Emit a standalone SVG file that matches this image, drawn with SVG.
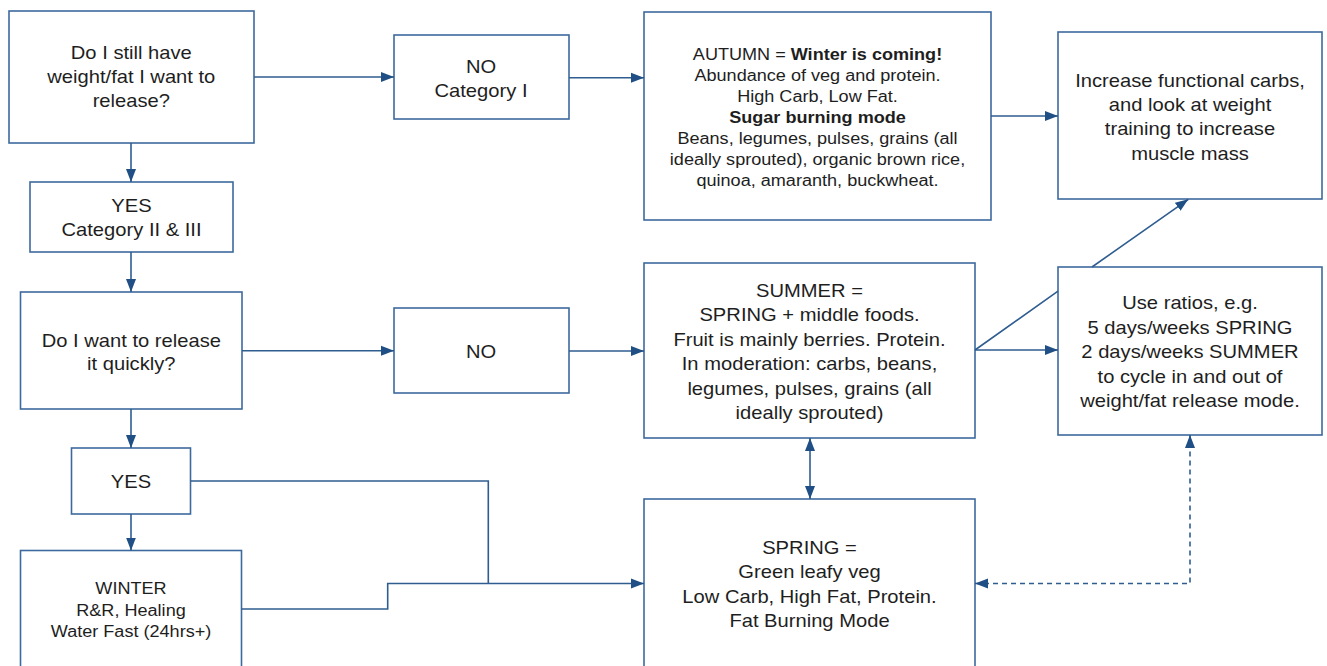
<svg xmlns="http://www.w3.org/2000/svg" width="1327" height="666" viewBox="0 0 1327 666">
<style>
.box{fill:#ffffff;stroke:#3d6a9e;stroke-width:1.6}
.t{font-family:"Liberation Sans",Arial,sans-serif;font-size:18px;fill:#1e1e1e;text-anchor:middle}
.s{font-size:16px}
.b{font-weight:bold}
.c{fill:none;stroke:#2f5d90;stroke-width:1.6}
.d{stroke-dasharray:5,4}
</style>
<defs>
<marker id="ah" markerUnits="userSpaceOnUse" markerWidth="14" markerHeight="11" refX="13" refY="5.5" orient="auto-start-reverse" viewBox="0 0 14 11">
<path d="M0,0.5 L13,5.5 L0,10.5 z" fill="#1f4f85"/>
</marker>
</defs>
<rect width="1327" height="666" fill="#ffffff"/>

<g id="n-still">
<rect class="box" x="9" y="11" width="245" height="132"/>
<g transform="translate(131.3,0) scale(1.12,1)"><text class="t"><tspan x="0" y="59.3">Do I still have</tspan><tspan x="0" y="83.3">weight/fat I want to</tspan><tspan x="0" y="107.3">release?</tspan></text></g>
</g>
<g id="n-yescat">
<rect class="box" x="30" y="182" width="203" height="70"/>
<g transform="translate(131.5,0) scale(1.12,1)"><text class="t"><tspan x="0" y="212.5">YES</tspan><tspan x="0" y="236.5">Category II &amp; III</tspan></text></g>
</g>
<g id="n-nocat">
<rect class="box" x="394" y="35" width="175" height="84"/>
<g transform="translate(481,0) scale(1.12,1)"><text class="t"><tspan x="0" y="73.3">NO</tspan><tspan x="0" y="97.3">Category I</tspan></text></g>
</g>
<g id="n-autumn">
<rect class="box" x="644" y="12" width="347" height="208"/>
<g transform="translate(817.5,0) scale(1.13,1)"><text class="t s"><tspan x="0" y="60">AUTUMN = <tspan class="b">Winter is coming!</tspan></tspan><tspan x="0" y="81">Abundance of veg and protein.</tspan><tspan x="0" y="102">High Carb, Low Fat.</tspan><tspan x="0" y="123" class="b">Sugar burning mode</tspan><tspan x="0" y="144">Beans, legumes, pulses, grains (all</tspan><tspan x="0" y="165">ideally sprouted), organic brown rice,</tspan><tspan x="0" y="186">quinoa, amaranth, buckwheat.</tspan></text></g>
</g>
<g id="n-increase">
<rect class="box" x="1058" y="32" width="264" height="167"/>
<g transform="translate(1190,0) scale(1.12,1)"><text class="t"><tspan x="0" y="86.7">Increase functional carbs,</tspan><tspan x="0" y="111">and look at weight</tspan><tspan x="0" y="135.3">training to increase</tspan><tspan x="0" y="159.7">muscle mass</tspan></text></g>
</g>
<g id="n-quick">
<rect class="box" x="20.5" y="292" width="221.5" height="117"/>
<g transform="translate(131.3,0) scale(1.12,1)"><text class="t"><tspan x="0" y="346.7">Do I want to release</tspan><tspan x="0" y="370.5">it quickly?</tspan></text></g>
</g>
<g id="n-no">
<rect class="box" x="394" y="308" width="175" height="85"/>
<g transform="translate(481,0) scale(1.12,1)"><text class="t"><tspan x="0" y="358.5">NO</tspan></text></g>
</g>
<g id="n-summer">
<rect class="box" x="644" y="263" width="331" height="175"/>
<g transform="translate(809.5,0) scale(1.12,1)"><text class="t"><tspan x="0" y="297">SUMMER =</tspan><tspan x="0" y="321.5">SPRING + middle foods.</tspan><tspan x="0" y="346">Fruit is mainly berries. Protein.</tspan><tspan x="0" y="370.5">In moderation: carbs, beans,</tspan><tspan x="0" y="395">legumes, pulses, grains (all</tspan><tspan x="0" y="419.5">ideally sprouted)</tspan></text></g>
</g>
<g id="n-ratios">
<rect class="box" x="1058" y="267" width="264" height="168"/>
<g transform="translate(1190,0) scale(1.12,1)"><text class="t"><tspan x="0" y="309.5">Use ratios, e.g.</tspan><tspan x="0" y="334">5 days/weeks SPRING</tspan><tspan x="0" y="358.5">2 days/weeks SUMMER</tspan><tspan x="0" y="383">to cycle in and out of</tspan><tspan x="0" y="407">weight/fat release mode.</tspan></text></g>
</g>
<g id="n-yes">
<rect class="box" x="71.5" y="448" width="119" height="66"/>
<g transform="translate(131,0) scale(1.12,1)"><text class="t"><tspan x="0" y="488.3">YES</tspan></text></g>
</g>
<g id="n-winter">
<rect class="box" x="20.5" y="550.5" width="221" height="130"/>
<g transform="translate(131,0) scale(1.13,1)"><text class="t s"><tspan x="0" y="594.3">WINTER</tspan><tspan x="0" y="616">R&amp;R, Healing</tspan><tspan x="0" y="637.5">Water Fast (24hrs+)</tspan></text></g>
</g>
<g id="n-spring">
<rect class="box" x="644" y="499" width="331" height="180"/>
<g transform="translate(809.5,0) scale(1.12,1)"><text class="t"><tspan x="0" y="554">SPRING =</tspan><tspan x="0" y="578.5">Green leafy veg</tspan><tspan x="0" y="603">Low Carb, High Fat, Protein.</tspan><tspan x="0" y="627.5">Fat Burning Mode</tspan></text></g>
</g>

<g id="connectors">
<path class="c" d="M254,77 H394" marker-end="url(#ah)"/>
<path class="c" d="M569,77.7 H644" marker-end="url(#ah)"/>
<path class="c" d="M991,116 H1058" marker-end="url(#ah)"/>
<path class="c" d="M131,143 V182" marker-end="url(#ah)"/>
<path class="c" d="M131,252 V292" marker-end="url(#ah)"/>
<path class="c" d="M242,350.8 H394" marker-end="url(#ah)"/>
<path class="c" d="M569,351 H644" marker-end="url(#ah)"/>
<path class="c" d="M131,409 V448" marker-end="url(#ah)"/>
<path class="c" d="M131,514 V550.5" marker-end="url(#ah)"/>
<path class="c" d="M190.5,481 H488.3 V583.5"/>
<path class="c" d="M241.5,609 H387.7 V583.5 H644" marker-end="url(#ah)"/>
<path class="c" d="M810,438 V499" marker-start="url(#ah)" marker-end="url(#ah)"/>
<path class="c" d="M975,350 H1058" marker-end="url(#ah)"/>
<path class="c" d="M975,350 L1058,291.2 M1092,267 L1188.3,199.3" marker-end="url(#ah)"/>
<path class="c d" d="M975,583.5 H1190 V435" marker-start="url(#ah)" marker-end="url(#ah)"/>
</g>
</svg>
